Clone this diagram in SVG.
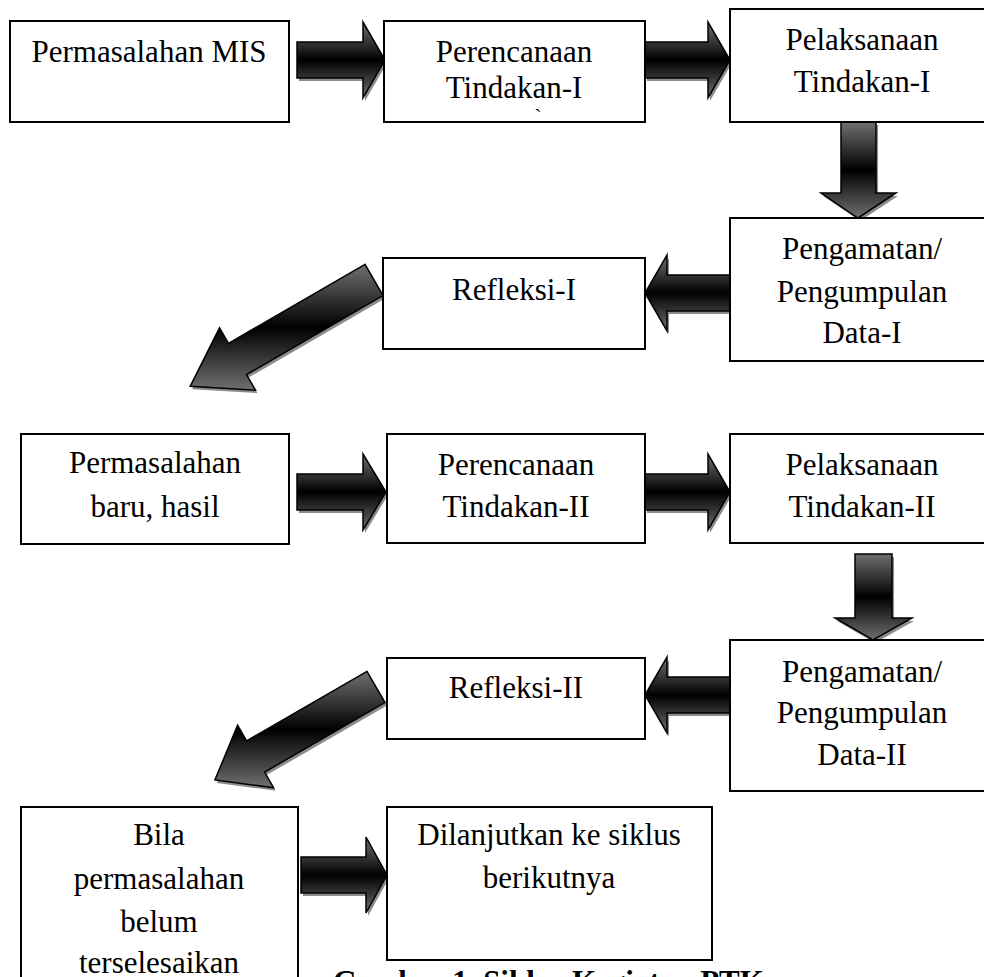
<svg xmlns="http://www.w3.org/2000/svg" width="984" height="977" viewBox="0 0 984 977">
<defs>
<linearGradient id="ag" x1="0" y1="0" x2="0" y2="1">
<stop offset="0" stop-color="#707070"/>
<stop offset="0.5" stop-color="#000000"/>
<stop offset="1" stop-color="#707070"/>
</linearGradient>
<style>
.box{fill:#fff;stroke:#000;stroke-width:2}
text{fill:#000}
.t{font-size:31px;text-anchor:middle}
.cap{font-size:31px;font-weight:bold}
.sh{fill:#8c8c8c}
.ar{fill:url(#ag);stroke:#000;stroke-width:1.5;stroke-linejoin:miter}
</style>
</defs>
<rect width="984" height="977" fill="#fff"/>

<g id="connectors">
<g id="a1"><polygon class="sh" transform="translate(2,3)" points="297,42 363,42 363,22 385,60 363,98 363,78 297,78"/><polygon class="ar" points="297,42 363,42 363,22 385,60 363,98 363,78 297,78"/></g>
<g id="a2"><polygon class="sh" transform="translate(2,3)" points="645,42 708,42 708,22 730,60 708,98 708,78 645,78"/><polygon class="ar" points="645,42 708,42 708,22 730,60 708,98 708,78 645,78"/></g>
<g id="d1"><polygon class="sh" transform="translate(2,3)" points="841,122 876,122 876,193 896,193 858,218 821,193 841,193"/><polygon class="ar" points="841,122 876,122 876,193 896,193 858,218 821,193 841,193"/></g>
<g id="l1"><polygon class="sh" transform="translate(2,3)" points="730,275 667,275 667,255 645,293 667,331 667,311 730,311"/><polygon class="ar" points="730,275 667,275 667,255 645,293 667,331 667,311 730,311"/></g>
<g id="g1"><polygon class="sh" transform="translate(2,3)" points="365,264.4 228.5,343.4 219.5,327.8 190.2,386.3 255.5,390.2 246.5,374.6 383,295.6"/><polygon class="ar" points="365,264.4 228.5,343.4 219.5,327.8 190.2,386.3 255.5,390.2 246.5,374.6 383,295.6"/></g>
<g id="a3"><polygon class="sh" transform="translate(2,3)" points="297,474 363,474 363,454 386,492 363,530 363,510 297,510"/><polygon class="ar" points="297,474 363,474 363,454 386,492 363,530 363,510 297,510"/></g>
<g id="a4"><polygon class="sh" transform="translate(2,3)" points="645,474 708,474 708,454 730,492 708,530 708,510 645,510"/><polygon class="ar" points="645,474 708,474 708,454 730,492 708,530 708,510 645,510"/></g>
<g id="d2"><polygon class="sh" transform="translate(2,3)" points="855,554 892,554 892,618 912,618 873,640 835,618 855,618"/><polygon class="ar" points="855,554 892,554 892,618 912,618 873,640 835,618 855,618"/></g>
<g id="l2"><polygon class="sh" transform="translate(2,3)" points="730,677 667,677 667,657 645,695 667,733 667,713 730,713"/><polygon class="ar" points="730,677 667,677 667,657 645,695 667,733 667,713 730,713"/></g>
<g id="g2"><polygon class="sh" transform="translate(2,3)" points="367,671.4 246.6,740.9 237.6,725.3 214.9,780 273.6,787.7 264.6,772.1 385,702.6"/><polygon class="ar" points="367,671.4 246.6,740.9 237.6,725.3 214.9,780 273.6,787.7 264.6,772.1 385,702.6"/></g>
<g id="a5"><polygon class="sh" transform="translate(2,3)" points="301,857 366,857 366,837 387,875 366,913 366,893 301,893"/><polygon class="ar" points="301,857 366,857 366,837 387,875 366,913 366,893 301,893"/></g>
</g>

<g font-family="'Liberation Serif', 'Times New Roman', Times, serif">
<g id="n1"><rect class="box" x="10" y="21" width="279" height="101"/><text class="t" x="149" y="62">Permasalahan MIS</text></g>
<g id="n2"><rect class="box" x="384" y="21" width="261" height="101"/><text class="t" x="514" y="62">Perencanaan</text><text class="t" x="514" y="98">Tindakan-I</text><text class="t" x="538" y="124" style="font-size:22px">`</text></g>
<g id="n3"><rect class="box" x="730" y="9" width="264" height="113"/><text class="t" x="862" y="50">Pelaksanaan</text><text class="t" x="862" y="92">Tindakan-I</text></g>
<g id="n4"><rect class="box" x="730" y="218" width="264" height="143"/><text class="t" x="862" y="259">Pengamatan/</text><text class="t" x="862" y="302">Pengumpulan</text><text class="t" x="862" y="343">Data-I</text></g>
<g id="n5"><rect class="box" x="383" y="258" width="262" height="91"/><text class="t" x="514" y="300">Refleksi-I</text></g>
<g id="n6"><rect class="box" x="21" y="434" width="268" height="110"/><text class="t" x="155" y="473">Permasalahan</text><text class="t" x="155" y="517">baru, hasil</text></g>
<g id="n7"><rect class="box" x="387" y="434" width="258" height="109"/><text class="t" x="516" y="475">Perencanaan</text><text class="t" x="516" y="517">Tindakan-II</text></g>
<g id="n8"><rect class="box" x="730" y="434" width="264" height="109"/><text class="t" x="862" y="475">Pelaksanaan</text><text class="t" x="862" y="517">Tindakan-II</text></g>
<g id="n9"><rect class="box" x="730" y="640" width="264" height="151"/><text class="t" x="862" y="682">Pengamatan/</text><text class="t" x="862" y="723">Pengumpulan</text><text class="t" x="862" y="765">Data-II</text></g>
<g id="n10"><rect class="box" x="387" y="658" width="258" height="81"/><text class="t" x="516" y="698">Refleksi-II</text></g>
<g id="n11"><rect class="box" x="21" y="807" width="277" height="200"/><text class="t" x="159" y="845">Bila</text><text class="t" x="159" y="889">permasalahan</text><text class="t" x="159" y="932">belum</text><text class="t" x="159" y="973">terselesaikan</text></g>
<g id="n12"><rect class="box" x="387" y="807" width="325" height="153"/><text class="t" x="549" y="845">Dilanjutkan ke siklus</text><text class="t" x="549" y="888">berikutnya</text></g>
<text class="cap" x="333" y="992">Gambar 1. Siklus Kegiatan PTK</text>
</g>
</svg>
